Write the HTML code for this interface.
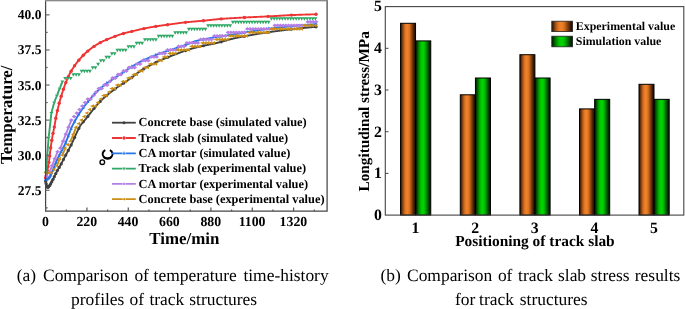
<!DOCTYPE html>
<html><head><meta charset="utf-8"><title>Figure</title>
<style>
html,body{margin:0;padding:0;background:#fff;}
body{width:685px;height:309px;overflow:hidden;font-family:"Liberation Serif",serif;}
svg{display:block;transform:translateZ(0);will-change:transform;}
text{font-family:"Liberation Serif",serif;fill:#000;text-rendering:geometricPrecision;}
.b{font-weight:bold;}
</style></head><body>
<svg width="685" height="309" viewBox="0 0 685 309">
<defs>
<linearGradient id="go" x1="0" y1="0" x2="1" y2="0"><stop offset="0" stop-color="#2a1405"/><stop offset="0.08" stop-color="#5a2a0a"/><stop offset="0.22" stop-color="#b55d1b"/><stop offset="0.35" stop-color="#ea7c27"/><stop offset="0.47" stop-color="#f08229"/><stop offset="0.60" stop-color="#d9711f"/><stop offset="0.75" stop-color="#8a4313"/><stop offset="0.90" stop-color="#3a1a06"/><stop offset="1" stop-color="#1a0b02"/></linearGradient>
<linearGradient id="gg" x1="0" y1="0" x2="1" y2="0"><stop offset="0" stop-color="#001a00"/><stop offset="0.10" stop-color="#004a00"/><stop offset="0.25" stop-color="#009a00"/><stop offset="0.38" stop-color="#00cc00"/><stop offset="0.50" stop-color="#00d600"/><stop offset="0.62" stop-color="#00b800"/><stop offset="0.78" stop-color="#006a00"/><stop offset="0.92" stop-color="#002a00"/><stop offset="1" stop-color="#001000"/></linearGradient>
<clipPath id="lc"><rect x="45.6" y="0.45" width="281.5" height="210.75"/></clipPath>
</defs>
<rect x="0" y="0" width="685" height="309" fill="#fff"/>
<g>
<path d="M45.6 181.2 L46.1 183.55 L46.6 185.46 L47.1 186.79 L47.6 187.38 L48.1 187.27 L48.6 186.82 L49.1 186.21 L49.6 185.58 L50.1 184.85 L50.6 183.99 L51.1 183.05 L51.6 182.06 L52.1 181.08 L52.6 180.13 L53.1 179.15 L53.6 178.15 L54.1 177.13 L54.6 176.09 L55.1 175.06 L55.6 174.03 L56.1 173.01 L56.6 172.01 L57.1 171.05 L57.6 170.12 L58.1 169.24 L58.6 168.39 L59.1 167.56 L59.6 166.73 L60.1 165.88 L60.6 165 L61.1 164.07 L61.6 163.12 L62.1 162.14 L62.6 161.16 L63.1 160.19 L63.6 159.24 L64.1 158.29 L64.6 157.34 L65.1 156.4 L65.6 155.46 L66.1 154.53 L66.6 153.59 L67.1 152.65 L67.6 151.72 L68.1 150.77 L68.6 149.83 L69.1 148.88 L69.6 147.92 L70.1 146.95 L70.6 145.98 L71.1 145 L71.6 143.99 L72.1 142.95 L72.6 141.89 L73.1 140.8 L73.6 139.69 L74.1 138.57 L74.6 137.44 L75.1 136.31 L75.6 135.19 L76.1 134.07 L76.6 132.97 L77.1 131.88 L77.6 130.83 L78.1 129.8 L78.6 128.81 L79.1 127.86 L79.6 126.95 L80.1 126.1 L80.6 125.3 L81.1 124.57 L81.6 123.89 L82.1 123.25 L82.6 122.65 L83.1 122.08 L83.6 121.51 L84.1 120.94 L84.6 120.36 L85.1 119.76 L85.6 119.14 L86.1 118.53 L86.6 117.9 L87.1 117.27 L87.6 116.64 L88.1 116.01 L88.6 115.37 L89.1 114.73 L89.6 114.09 L90.1 113.45 L90.6 112.8 L91.1 112.16 L91.6 111.52 L92.1 110.89 L92.6 110.25 L93.1 109.62 L93.6 108.99 L94.1 108.37 L94.6 107.75 L95.1 107.14 L95.6 106.54 L96.1 105.94 L96.6 105.35 L97.1 104.77 L97.6 104.2 L98.1 103.63 L98.6 103.08 L99.1 102.54 L99.6 102.01 L100.1 101.5 L100.6 101 L101.1 100.51 L101.6 100.02 L102.1 99.55 L102.6 99.08 L103.1 98.62 L103.6 98.17 L104.1 97.72 L104.6 97.27 L105.1 96.83 L105.6 96.4 L106.1 95.98 L106.6 95.55 L107.1 95.14 L107.6 94.72 L108.1 94.31 L108.6 93.91 L109.1 93.51 L109.6 93.11 L110.1 92.72 L110.6 92.33 L111.1 91.94 L111.6 91.56 L112.1 91.17 L112.6 90.79 L113.1 90.42 L113.6 90.04 L114.1 89.67 L114.6 89.3 L115.1 88.93 L115.6 88.56 L116.1 88.19 L116.6 87.82 L117.1 87.45 L117.6 87.09 L118.1 86.74 L118.6 86.39 L119.1 86.04 L119.6 85.7 L120.1 85.36 L120.6 85.03 L121.1 84.69 L121.6 84.36 L122.1 84.04 L122.6 83.71 L123.1 83.39 L123.6 83.06 L124.1 82.74 L124.6 82.41 L125.1 82.08 L125.6 81.76 L126.1 81.43 L126.6 81.09 L127.1 80.76 L127.6 80.42 L128.1 80.08 L128.6 79.73 L129.1 79.38 L129.6 79.02 L130.1 78.66 L130.6 78.29 L131.1 77.92 L131.6 77.54 L132.1 77.17 L132.6 76.79 L133.1 76.41 L133.6 76.03 L134.1 75.64 L134.6 75.26 L135.1 74.88 L135.6 74.5 L136.1 74.12 L136.6 73.74 L137.1 73.37 L137.6 72.99 L138.1 72.62 L138.6 72.26 L139.1 71.9 L139.6 71.55 L140.1 71.2 L140.6 70.86 L141.1 70.52 L141.6 70.19 L142.1 69.87 L142.6 69.56 L143.1 69.26 L143.6 68.96 L144.1 68.66 L144.6 68.36 L145.1 68.07 L145.6 67.79 L146.1 67.5 L146.6 67.22 L147.1 66.94 L147.6 66.66 L148.1 66.39 L148.6 66.12 L149.1 65.85 L149.6 65.59 L150.1 65.33 L150.6 65.07 L151.1 64.81 L151.6 64.55 L152.1 64.3 L152.6 64.05 L153.1 63.8 L153.6 63.55 L154.1 63.3 L154.6 63.06 L155.1 62.82 L155.6 62.58 L156.1 62.34 L156.6 62.1 L157.1 61.86 L157.6 61.63 L158.1 61.39 L158.6 61.16 L159.1 60.93 L159.6 60.71 L160.1 60.48 L160.6 60.27 L161.1 60.05 L161.6 59.84 L162.1 59.62 L162.6 59.41 L163.1 59.21 L163.6 59 L164.1 58.79 L164.6 58.59 L165.1 58.38 L165.6 58.18 L166.1 57.97 L166.6 57.77 L167.1 57.57 L167.6 57.37 L168.1 57.16 L168.6 56.96 L169.1 56.77 L169.6 56.57 L170.1 56.37 L170.6 56.17 L171.1 55.97 L171.6 55.78 L172.1 55.58 L172.6 55.39 L173.1 55.2 L173.6 55 L174.1 54.81 L174.6 54.62 L175.1 54.43 L175.6 54.24 L176.1 54.05 L176.6 53.86 L177.1 53.67 L177.6 53.49 L178.1 53.3 L178.6 53.12 L179.1 52.93 L179.6 52.75 L180.1 52.56 L180.6 52.38 L181.1 52.2 L181.6 52.01 L182.1 51.83 L182.6 51.65 L183.1 51.47 L183.6 51.29 L184.1 51.11 L184.6 50.93 L185.1 50.76 L185.6 50.59 L186.1 50.42 L186.6 50.25 L187.1 50.09 L187.6 49.93 L188.1 49.77 L188.6 49.61 L189.1 49.46 L189.6 49.31 L190.1 49.16 L190.6 49.01 L191.1 48.86 L191.6 48.72 L192.1 48.57 L192.6 48.43 L193.1 48.29 L193.6 48.15 L194.1 48.01 L194.6 47.88 L195.1 47.74 L195.6 47.61 L196.1 47.48 L196.6 47.34 L197.1 47.22 L197.6 47.09 L198.1 46.96 L198.6 46.84 L199.1 46.72 L199.6 46.6 L200.1 46.48 L200.6 46.36 L201.1 46.25 L201.6 46.13 L202.1 46.02 L202.6 45.92 L203.1 45.81 L203.6 45.71 L204.1 45.6 L204.6 45.5 L205.1 45.4 L205.6 45.3 L206.1 45.21 L206.6 45.11 L207.1 45.01 L207.6 44.92 L208.1 44.82 L208.6 44.72 L209.1 44.62 L209.6 44.53 L210.1 44.43 L210.6 44.33 L211.1 44.23 L211.6 44.13 L212.1 44.03 L212.6 43.92 L213.1 43.82 L213.6 43.71 L214.1 43.6 L214.6 43.49 L215.1 43.38 L215.6 43.26 L216.1 43.14 L216.6 43.02 L217.1 42.9 L217.6 42.77 L218.1 42.65 L218.6 42.52 L219.1 42.39 L219.6 42.26 L220.1 42.13 L220.6 41.99 L221.1 41.86 L221.6 41.72 L222.1 41.59 L222.6 41.45 L223.1 41.31 L223.6 41.17 L224.1 41.04 L224.6 40.9 L225.1 40.76 L225.6 40.62 L226.1 40.48 L226.6 40.34 L227.1 40.21 L227.6 40.07 L228.1 39.93 L228.6 39.8 L229.1 39.67 L229.6 39.53 L230.1 39.4 L230.6 39.27 L231.1 39.14 L231.6 39.01 L232.1 38.89 L232.6 38.76 L233.1 38.64 L233.6 38.52 L234.1 38.41 L234.6 38.29 L235.1 38.18 L235.6 38.07 L236.1 37.96 L236.6 37.85 L237.1 37.74 L237.6 37.63 L238.1 37.53 L238.6 37.43 L239.1 37.32 L239.6 37.22 L240.1 37.12 L240.6 37.02 L241.1 36.92 L241.6 36.82 L242.1 36.72 L242.6 36.63 L243.1 36.53 L243.6 36.43 L244.1 36.34 L244.6 36.24 L245.1 36.15 L245.6 36.06 L246.1 35.97 L246.6 35.87 L247.1 35.78 L247.6 35.69 L248.1 35.6 L248.6 35.51 L249.1 35.42 L249.6 35.33 L250.1 35.24 L250.6 35.15 L251.1 35.06 L251.6 34.97 L252.1 34.88 L252.6 34.79 L253.1 34.71 L253.6 34.62 L254.1 34.53 L254.6 34.44 L255.1 34.36 L255.6 34.27 L256.1 34.19 L256.6 34.1 L257.1 34.02 L257.6 33.93 L258.1 33.85 L258.6 33.76 L259.1 33.68 L259.6 33.6 L260.1 33.52 L260.6 33.43 L261.1 33.35 L261.6 33.27 L262.1 33.19 L262.6 33.11 L263.1 33.03 L263.6 32.95 L264.1 32.88 L264.6 32.8 L265.1 32.72 L265.6 32.65 L266.1 32.57 L266.6 32.49 L267.1 32.42 L267.6 32.35 L268.1 32.27 L268.6 32.2 L269.1 32.13 L269.6 32.06 L270.1 31.99 L270.6 31.92 L271.1 31.85 L271.6 31.78 L272.1 31.71 L272.6 31.64 L273.1 31.57 L273.6 31.5 L274.1 31.43 L274.6 31.36 L275.1 31.3 L275.6 31.23 L276.1 31.16 L276.6 31.09 L277.1 31.03 L277.6 30.96 L278.1 30.9 L278.6 30.83 L279.1 30.76 L279.6 30.7 L280.1 30.63 L280.6 30.57 L281.1 30.51 L281.6 30.44 L282.1 30.38 L282.6 30.31 L283.1 30.25 L283.6 30.19 L284.1 30.13 L284.6 30.06 L285.1 30 L285.6 29.94 L286.1 29.88 L286.6 29.82 L287.1 29.76 L287.6 29.7 L288.1 29.64 L288.6 29.58 L289.1 29.52 L289.6 29.46 L290.1 29.4 L290.6 29.34 L291.1 29.29 L291.6 29.23 L292.1 29.17 L292.6 29.11 L293.1 29.06 L293.6 29 L294.1 28.95 L294.6 28.89 L295.1 28.83 L295.6 28.78 L296.1 28.72 L296.6 28.67 L297.1 28.62 L297.6 28.56 L298.1 28.51 L298.6 28.45 L299.1 28.4 L299.6 28.35 L300.1 28.3 L300.6 28.24 L301.1 28.19 L301.6 28.14 L302.1 28.09 L302.6 28.04 L303.1 27.99 L303.6 27.94 L304.1 27.89 L304.6 27.84 L305.1 27.79 L305.6 27.75 L306.1 27.7 L306.6 27.65 L307.1 27.6 L307.6 27.56 L308.1 27.51 L308.6 27.47 L309.1 27.42 L309.6 27.38 L310.1 27.33 L310.6 27.29 L311.1 27.25 L311.6 27.2 L312.1 27.16 L312.6 27.12 L313.1 27.08 L313.6 27.04 L314.1 26.99 L314.6 26.95 L315.1 26.91 L315.6 26.87 L316.1 26.83 L316.5 26.8" fill="none" stroke="#404040" stroke-width="1.9" stroke-linejoin="round" stroke-linecap="round"/>
<circle cx="45.6" cy="181.2" r="1.6" fill="#404040"/>
<circle cx="46.1" cy="183.55" r="1.6" fill="#404040"/>
<circle cx="46.7" cy="185.78" r="1.6" fill="#404040"/>
<circle cx="47.3" cy="187.12" r="1.6" fill="#404040"/>
<circle cx="48" cy="187.32" r="1.6" fill="#404040"/>
<circle cx="48.8" cy="186.59" r="1.6" fill="#404040"/>
<circle cx="49.7" cy="185.44" r="1.6" fill="#404040"/>
<circle cx="50.7" cy="183.81" r="1.6" fill="#404040"/>
<circle cx="51.8" cy="181.67" r="1.6" fill="#404040"/>
<circle cx="53" cy="179.35" r="1.6" fill="#404040"/>
<circle cx="54.3" cy="176.71" r="1.6" fill="#404040"/>
<circle cx="55.8" cy="173.62" r="1.6" fill="#404040"/>
<circle cx="57.4" cy="170.48" r="1.6" fill="#404040"/>
<circle cx="59.2" cy="167.39" r="1.6" fill="#404040"/>
<circle cx="61.2" cy="163.88" r="1.6" fill="#404040"/>
<circle cx="63.4" cy="159.62" r="1.6" fill="#404040"/>
<circle cx="65.8" cy="155.09" r="1.6" fill="#404040"/>
<circle cx="68.3" cy="150.4" r="1.6" fill="#404040"/>
<circle cx="71.1" cy="145" r="1.6" fill="#404040"/>
<circle cx="74.6" cy="137.44" r="1.6" fill="#404040"/>
<circle cx="78.8" cy="128.42" r="1.6" fill="#404040"/>
<circle cx="83.3" cy="121.85" r="1.6" fill="#404040"/>
<circle cx="87.8" cy="116.39" r="1.6" fill="#404040"/>
<circle cx="94" cy="108.49" r="1.6" fill="#404040"/>
<circle cx="100.2" cy="101.4" r="1.6" fill="#404040"/>
<circle cx="106.6" cy="95.55" r="1.6" fill="#404040"/>
<circle cx="115" cy="89" r="1.6" fill="#404040"/>
<circle cx="123.5" cy="83.13" r="1.6" fill="#404040"/>
<circle cx="131.8" cy="77.39" r="1.6" fill="#404040"/>
<circle cx="143.9" cy="68.78" r="1.6" fill="#404040"/>
<circle cx="155.8" cy="62.48" r="1.6" fill="#404040"/>
<circle cx="167.6" cy="57.37" r="1.6" fill="#404040"/>
<circle cx="185.5" cy="50.62" r="1.6" fill="#404040"/>
<circle cx="203.4" cy="45.75" r="1.6" fill="#404040"/>
<circle cx="221.2" cy="41.83" r="1.6" fill="#404040"/>
<circle cx="244.4" cy="36.28" r="1.6" fill="#404040"/>
<circle cx="268.2" cy="32.26" r="1.6" fill="#404040"/>
<circle cx="291.4" cy="29.25" r="1.6" fill="#404040"/>
<circle cx="316" cy="26.84" r="1.6" fill="#404040"/>
<path d="M45.6 178 L46.1 176.03 L46.6 173.86 L47.1 171.51 L47.6 168.89 L48.1 166.11 L48.6 163.41 L49.1 160.64 L49.6 156.9 L50.1 152.45 L50.6 148.52 L51.1 144.93 L51.6 141.54 L52.1 138.37 L52.6 135.44 L53.1 132.84 L53.6 130.47 L54.1 128.1 L54.6 125.55 L55.1 122.52 L55.6 119.31 L56.1 116.69 L56.6 114.26 L57.1 111.95 L57.6 109.74 L58.1 107.63 L58.6 105.61 L59.1 103.67 L59.6 101.8 L60.1 100 L60.6 98.25 L61.1 96.56 L61.6 94.9 L62.1 93.28 L62.6 91.71 L63.1 90.18 L63.6 88.69 L64.1 87.24 L64.6 85.83 L65.1 84.46 L65.6 83.14 L66.1 81.85 L66.6 80.6 L67.1 79.39 L67.6 78.21 L68.1 77.08 L68.6 75.98 L69.1 74.94 L69.6 73.93 L70.1 72.98 L70.6 72.07 L71.1 71.2 L71.6 70.36 L72.1 69.55 L72.6 68.75 L73.1 67.97 L73.6 67.2 L74.1 66.46 L74.6 65.73 L75.1 65.02 L75.6 64.32 L76.1 63.64 L76.6 62.98 L77.1 62.32 L77.6 61.69 L78.1 61.07 L78.6 60.46 L79.1 59.86 L79.6 59.28 L80.1 58.7 L80.6 58.13 L81.1 57.58 L81.6 57.03 L82.1 56.49 L82.6 55.96 L83.1 55.44 L83.6 54.94 L84.1 54.44 L84.6 53.95 L85.1 53.47 L85.6 53.01 L86.1 52.55 L86.6 52.11 L87.1 51.67 L87.6 51.25 L88.1 50.84 L88.6 50.43 L89.1 50.03 L89.6 49.63 L90.1 49.25 L90.6 48.86 L91.1 48.48 L91.6 48.11 L92.1 47.74 L92.6 47.38 L93.1 47.03 L93.6 46.68 L94.1 46.34 L94.6 46 L95.1 45.67 L95.6 45.34 L96.1 45.02 L96.6 44.71 L97.1 44.4 L97.6 44.1 L98.1 43.81 L98.6 43.52 L99.1 43.24 L99.6 42.97 L100.1 42.7 L100.6 42.44 L101.1 42.18 L101.6 41.93 L102.1 41.69 L102.6 41.44 L103.1 41.21 L103.6 40.97 L104.1 40.75 L104.6 40.52 L105.1 40.3 L105.6 40.08 L106.1 39.87 L106.6 39.66 L107.1 39.45 L107.6 39.24 L108.1 39.04 L108.6 38.83 L109.1 38.63 L109.6 38.44 L110.1 38.24 L110.6 38.04 L111.1 37.85 L111.6 37.65 L112.1 37.46 L112.6 37.27 L113.1 37.07 L113.6 36.88 L114.1 36.69 L114.6 36.49 L115.1 36.3 L115.6 36.1 L116.1 35.91 L116.6 35.72 L117.1 35.52 L117.6 35.34 L118.1 35.15 L118.6 34.97 L119.1 34.8 L119.6 34.63 L120.1 34.47 L120.6 34.31 L121.1 34.16 L121.6 34.01 L122.1 33.87 L122.6 33.73 L123.1 33.59 L123.6 33.45 L124.1 33.31 L124.6 33.18 L125.1 33.05 L125.6 32.92 L126.1 32.79 L126.6 32.66 L127.1 32.54 L127.6 32.41 L128.1 32.29 L128.6 32.17 L129.1 32.04 L129.6 31.92 L130.1 31.8 L130.6 31.67 L131.1 31.55 L131.6 31.43 L132.1 31.3 L132.6 31.18 L133.1 31.06 L133.6 30.93 L134.1 30.81 L134.6 30.69 L135.1 30.57 L135.6 30.45 L136.1 30.33 L136.6 30.21 L137.1 30.09 L137.6 29.97 L138.1 29.85 L138.6 29.74 L139.1 29.62 L139.6 29.51 L140.1 29.4 L140.6 29.29 L141.1 29.17 L141.6 29.07 L142.1 28.96 L142.6 28.85 L143.1 28.75 L143.6 28.64 L144.1 28.54 L144.6 28.44 L145.1 28.34 L145.6 28.24 L146.1 28.14 L146.6 28.04 L147.1 27.94 L147.6 27.84 L148.1 27.75 L148.6 27.65 L149.1 27.56 L149.6 27.46 L150.1 27.37 L150.6 27.28 L151.1 27.19 L151.6 27.1 L152.1 27.01 L152.6 26.92 L153.1 26.83 L153.6 26.75 L154.1 26.66 L154.6 26.58 L155.1 26.49 L155.6 26.41 L156.1 26.33 L156.6 26.25 L157.1 26.17 L157.6 26.1 L158.1 26.02 L158.6 25.95 L159.1 25.87 L159.6 25.8 L160.1 25.73 L160.6 25.66 L161.1 25.59 L161.6 25.52 L162.1 25.45 L162.6 25.38 L163.1 25.31 L163.6 25.24 L164.1 25.17 L164.6 25.11 L165.1 25.04 L165.6 24.97 L166.1 24.9 L166.6 24.84 L167.1 24.77 L167.6 24.7 L168.1 24.63 L168.6 24.56 L169.1 24.49 L169.6 24.42 L170.1 24.35 L170.6 24.28 L171.1 24.21 L171.6 24.14 L172.1 24.07 L172.6 24 L173.1 23.93 L173.6 23.86 L174.1 23.79 L174.6 23.72 L175.1 23.65 L175.6 23.58 L176.1 23.52 L176.6 23.45 L177.1 23.38 L177.6 23.31 L178.1 23.24 L178.6 23.18 L179.1 23.11 L179.6 23.04 L180.1 22.98 L180.6 22.92 L181.1 22.85 L181.6 22.79 L182.1 22.73 L182.6 22.67 L183.1 22.61 L183.6 22.55 L184.1 22.49 L184.6 22.43 L185.1 22.38 L185.6 22.32 L186.1 22.27 L186.6 22.22 L187.1 22.16 L187.6 22.11 L188.1 22.06 L188.6 22.01 L189.1 21.97 L189.6 21.92 L190.1 21.87 L190.6 21.83 L191.1 21.78 L191.6 21.74 L192.1 21.69 L192.6 21.65 L193.1 21.6 L193.6 21.56 L194.1 21.52 L194.6 21.47 L195.1 21.43 L195.6 21.39 L196.1 21.35 L196.6 21.3 L197.1 21.26 L197.6 21.22 L198.1 21.18 L198.6 21.13 L199.1 21.09 L199.6 21.05 L200.1 21 L200.6 20.96 L201.1 20.91 L201.6 20.87 L202.1 20.82 L202.6 20.78 L203.1 20.73 L203.6 20.68 L204.1 20.63 L204.6 20.58 L205.1 20.53 L205.6 20.48 L206.1 20.43 L206.6 20.38 L207.1 20.32 L207.6 20.27 L208.1 20.22 L208.6 20.16 L209.1 20.11 L209.6 20.05 L210.1 20 L210.6 19.94 L211.1 19.89 L211.6 19.83 L212.1 19.78 L212.6 19.72 L213.1 19.67 L213.6 19.62 L214.1 19.56 L214.6 19.51 L215.1 19.46 L215.6 19.41 L216.1 19.36 L216.6 19.31 L217.1 19.26 L217.6 19.21 L218.1 19.16 L218.6 19.12 L219.1 19.07 L219.6 19.03 L220.1 18.99 L220.6 18.95 L221.1 18.91 L221.6 18.87 L222.1 18.83 L222.6 18.79 L223.1 18.76 L223.6 18.72 L224.1 18.69 L224.6 18.65 L225.1 18.62 L225.6 18.58 L226.1 18.55 L226.6 18.52 L227.1 18.48 L227.6 18.45 L228.1 18.42 L228.6 18.39 L229.1 18.35 L229.6 18.32 L230.1 18.29 L230.6 18.26 L231.1 18.23 L231.6 18.2 L232.1 18.17 L232.6 18.14 L233.1 18.11 L233.6 18.08 L234.1 18.05 L234.6 18.03 L235.1 18 L235.6 17.97 L236.1 17.94 L236.6 17.91 L237.1 17.89 L237.6 17.86 L238.1 17.83 L238.6 17.81 L239.1 17.78 L239.6 17.75 L240.1 17.73 L240.6 17.7 L241.1 17.67 L241.6 17.65 L242.1 17.62 L242.6 17.59 L243.1 17.57 L243.6 17.54 L244.1 17.52 L244.6 17.49 L245.1 17.46 L245.6 17.44 L246.1 17.41 L246.6 17.39 L247.1 17.36 L247.6 17.34 L248.1 17.32 L248.6 17.29 L249.1 17.27 L249.6 17.25 L250.1 17.22 L250.6 17.2 L251.1 17.18 L251.6 17.16 L252.1 17.13 L252.6 17.11 L253.1 17.09 L253.6 17.07 L254.1 17.04 L254.6 17.02 L255.1 17 L255.6 16.98 L256.1 16.96 L256.6 16.94 L257.1 16.92 L257.6 16.89 L258.1 16.87 L258.6 16.85 L259.1 16.83 L259.6 16.81 L260.1 16.79 L260.6 16.76 L261.1 16.74 L261.6 16.72 L262.1 16.7 L262.6 16.68 L263.1 16.65 L263.6 16.63 L264.1 16.61 L264.6 16.58 L265.1 16.56 L265.6 16.54 L266.1 16.51 L266.6 16.49 L267.1 16.46 L267.6 16.44 L268.1 16.42 L268.6 16.39 L269.1 16.36 L269.6 16.34 L270.1 16.31 L270.6 16.28 L271.1 16.26 L271.6 16.23 L272.1 16.2 L272.6 16.17 L273.1 16.14 L273.6 16.11 L274.1 16.08 L274.6 16.05 L275.1 16.02 L275.6 15.99 L276.1 15.96 L276.6 15.93 L277.1 15.9 L277.6 15.87 L278.1 15.84 L278.6 15.8 L279.1 15.77 L279.6 15.74 L280.1 15.71 L280.6 15.68 L281.1 15.65 L281.6 15.62 L282.1 15.59 L282.6 15.56 L283.1 15.53 L283.6 15.5 L284.1 15.47 L284.6 15.44 L285.1 15.41 L285.6 15.39 L286.1 15.36 L286.6 15.33 L287.1 15.3 L287.6 15.28 L288.1 15.25 L288.6 15.23 L289.1 15.2 L289.6 15.18 L290.1 15.16 L290.6 15.13 L291.1 15.11 L291.6 15.09 L292.1 15.07 L292.6 15.05 L293.1 15.03 L293.6 15.01 L294.1 14.99 L294.6 14.97 L295.1 14.95 L295.6 14.93 L296.1 14.91 L296.6 14.89 L297.1 14.87 L297.6 14.85 L298.1 14.83 L298.6 14.82 L299.1 14.8 L299.6 14.78 L300.1 14.76 L300.6 14.74 L301.1 14.72 L301.6 14.71 L302.1 14.69 L302.6 14.67 L303.1 14.65 L303.6 14.64 L304.1 14.62 L304.6 14.6 L305.1 14.59 L305.6 14.57 L306.1 14.56 L306.6 14.54 L307.1 14.53 L307.6 14.51 L308.1 14.5 L308.6 14.48 L309.1 14.47 L309.6 14.45 L310.1 14.44 L310.6 14.43 L311.1 14.41 L311.6 14.4 L312.1 14.39 L312.6 14.38 L313.1 14.36 L313.6 14.35 L314.1 14.34 L314.6 14.33 L315.1 14.32 L315.6 14.31 L316 14.3" fill="none" stroke="#ee3535" stroke-width="1.9" stroke-linejoin="round" stroke-linecap="round"/>
<circle cx="45.6" cy="178" r="1.7" fill="#ee3535"/>
<circle cx="46.1" cy="176.03" r="1.7" fill="#ee3535"/>
<circle cx="46.7" cy="173.41" r="1.7" fill="#ee3535"/>
<circle cx="47.3" cy="170.5" r="1.7" fill="#ee3535"/>
<circle cx="48" cy="166.66" r="1.7" fill="#ee3535"/>
<circle cx="48.8" cy="162.36" r="1.7" fill="#ee3535"/>
<circle cx="49.7" cy="156.02" r="1.7" fill="#ee3535"/>
<circle cx="50.7" cy="147.79" r="1.7" fill="#ee3535"/>
<circle cx="51.8" cy="140.25" r="1.7" fill="#ee3535"/>
<circle cx="53" cy="133.34" r="1.7" fill="#ee3535"/>
<circle cx="54.3" cy="127.12" r="1.7" fill="#ee3535"/>
<circle cx="55.8" cy="118.2" r="1.7" fill="#ee3535"/>
<circle cx="57.4" cy="110.61" r="1.7" fill="#ee3535"/>
<circle cx="59.2" cy="103.29" r="1.7" fill="#ee3535"/>
<circle cx="61.2" cy="96.22" r="1.7" fill="#ee3535"/>
<circle cx="63.4" cy="89.28" r="1.7" fill="#ee3535"/>
<circle cx="65.8" cy="82.62" r="1.7" fill="#ee3535"/>
<circle cx="68.3" cy="76.63" r="1.7" fill="#ee3535"/>
<circle cx="71.1" cy="71.2" r="1.7" fill="#ee3535"/>
<circle cx="74.6" cy="65.73" r="1.7" fill="#ee3535"/>
<circle cx="78.8" cy="60.22" r="1.7" fill="#ee3535"/>
<circle cx="83.3" cy="55.24" r="1.7" fill="#ee3535"/>
<circle cx="87.8" cy="51.08" r="1.7" fill="#ee3535"/>
<circle cx="94" cy="46.4" r="1.7" fill="#ee3535"/>
<circle cx="100.2" cy="42.65" r="1.7" fill="#ee3535"/>
<circle cx="106.6" cy="39.66" r="1.7" fill="#ee3535"/>
<circle cx="115" cy="36.34" r="1.7" fill="#ee3535"/>
<circle cx="123.5" cy="33.48" r="1.7" fill="#ee3535"/>
<circle cx="131.8" cy="31.38" r="1.7" fill="#ee3535"/>
<circle cx="143.9" cy="28.58" r="1.7" fill="#ee3535"/>
<circle cx="155.8" cy="26.38" r="1.7" fill="#ee3535"/>
<circle cx="167.6" cy="24.7" r="1.7" fill="#ee3535"/>
<circle cx="185.5" cy="22.33" r="1.7" fill="#ee3535"/>
<circle cx="203.4" cy="20.7" r="1.7" fill="#ee3535"/>
<circle cx="221.2" cy="18.9" r="1.7" fill="#ee3535"/>
<circle cx="244.4" cy="17.5" r="1.7" fill="#ee3535"/>
<circle cx="268.2" cy="16.41" r="1.7" fill="#ee3535"/>
<circle cx="291.4" cy="15.1" r="1.7" fill="#ee3535"/>
<circle cx="316" cy="14.3" r="1.7" fill="#ee3535"/>
<path d="M45.6 179.8 L46.1 179.64 L46.6 179.42 L47.1 179.16 L47.6 178.86 L48.1 178.53 L48.6 178.15 L49.1 177.69 L49.6 177.14 L50.1 176.46 L50.6 175.5 L51.1 174.43 L51.6 173.35 L52.1 172.21 L52.6 171.02 L53.1 169.81 L53.6 168.55 L54.1 167.25 L54.6 165.96 L55.1 164.69 L55.6 163.42 L56.1 162.15 L56.6 160.92 L57.1 159.78 L57.6 158.7 L58.1 157.66 L58.6 156.66 L59.1 155.69 L59.6 154.74 L60.1 153.82 L60.6 152.9 L61.1 151.99 L61.6 151.08 L62.1 150.16 L62.6 149.23 L63.1 148.27 L63.6 147.29 L64.1 146.27 L64.6 145.22 L65.1 144.11 L65.6 142.94 L66.1 141.73 L66.6 140.47 L67.1 139.18 L67.6 137.86 L68.1 136.53 L68.6 135.2 L69.1 133.87 L69.6 132.55 L70.1 131.25 L70.6 129.99 L71.1 128.76 L71.6 127.58 L72.1 126.46 L72.6 125.4 L73.1 124.41 L73.6 123.44 L74.1 122.49 L74.6 121.55 L75.1 120.64 L75.6 119.73 L76.1 118.85 L76.6 117.98 L77.1 117.12 L77.6 116.28 L78.1 115.46 L78.6 114.65 L79.1 113.85 L79.6 113.07 L80.1 112.3 L80.6 111.54 L81.1 110.79 L81.6 110.06 L82.1 109.34 L82.6 108.63 L83.1 107.93 L83.6 107.24 L84.1 106.56 L84.6 105.9 L85.1 105.24 L85.6 104.59 L86.1 103.94 L86.6 103.3 L87.1 102.67 L87.6 102.05 L88.1 101.43 L88.6 100.82 L89.1 100.22 L89.6 99.62 L90.1 99.03 L90.6 98.45 L91.1 97.87 L91.6 97.3 L92.1 96.74 L92.6 96.19 L93.1 95.64 L93.6 95.1 L94.1 94.56 L94.6 94.03 L95.1 93.51 L95.6 93 L96.1 92.49 L96.6 92 L97.1 91.5 L97.6 91.02 L98.1 90.54 L98.6 90.07 L99.1 89.61 L99.6 89.15 L100.1 88.7 L100.6 88.26 L101.1 87.83 L101.6 87.4 L102.1 86.98 L102.6 86.57 L103.1 86.17 L103.6 85.77 L104.1 85.38 L104.6 85 L105.1 84.62 L105.6 84.24 L106.1 83.88 L106.6 83.51 L107.1 83.15 L107.6 82.8 L108.1 82.45 L108.6 82.1 L109.1 81.76 L109.6 81.41 L110.1 81.07 L110.6 80.74 L111.1 80.4 L111.6 80.07 L112.1 79.73 L112.6 79.4 L113.1 79.06 L113.6 78.73 L114.1 78.4 L114.6 78.06 L115.1 77.73 L115.6 77.39 L116.1 77.05 L116.6 76.71 L117.1 76.36 L117.6 76.02 L118.1 75.67 L118.6 75.33 L119.1 74.98 L119.6 74.64 L120.1 74.3 L120.6 73.95 L121.1 73.61 L121.6 73.27 L122.1 72.93 L122.6 72.59 L123.1 72.26 L123.6 71.92 L124.1 71.59 L124.6 71.25 L125.1 70.92 L125.6 70.6 L126.1 70.27 L126.6 69.94 L127.1 69.62 L127.6 69.3 L128.1 68.98 L128.6 68.67 L129.1 68.36 L129.6 68.05 L130.1 67.74 L130.6 67.43 L131.1 67.13 L131.6 66.82 L132.1 66.52 L132.6 66.21 L133.1 65.91 L133.6 65.61 L134.1 65.31 L134.6 65.01 L135.1 64.72 L135.6 64.42 L136.1 64.13 L136.6 63.84 L137.1 63.55 L137.6 63.27 L138.1 62.99 L138.6 62.71 L139.1 62.44 L139.6 62.17 L140.1 61.91 L140.6 61.64 L141.1 61.39 L141.6 61.14 L142.1 60.89 L142.6 60.65 L143.1 60.41 L143.6 60.18 L144.1 59.94 L144.6 59.71 L145.1 59.49 L145.6 59.26 L146.1 59.04 L146.6 58.81 L147.1 58.6 L147.6 58.38 L148.1 58.16 L148.6 57.95 L149.1 57.74 L149.6 57.53 L150.1 57.32 L150.6 57.11 L151.1 56.91 L151.6 56.7 L152.1 56.5 L152.6 56.3 L153.1 56.1 L153.6 55.91 L154.1 55.71 L154.6 55.52 L155.1 55.32 L155.6 55.13 L156.1 54.94 L156.6 54.75 L157.1 54.56 L157.6 54.38 L158.1 54.19 L158.6 54.01 L159.1 53.82 L159.6 53.64 L160.1 53.46 L160.6 53.28 L161.1 53.09 L161.6 52.91 L162.1 52.74 L162.6 52.56 L163.1 52.38 L163.6 52.2 L164.1 52.02 L164.6 51.85 L165.1 51.67 L165.6 51.49 L166.1 51.32 L166.6 51.15 L167.1 50.98 L167.6 50.82 L168.1 50.66 L168.6 50.49 L169.1 50.33 L169.6 50.18 L170.1 50.02 L170.6 49.86 L171.1 49.71 L171.6 49.55 L172.1 49.4 L172.6 49.25 L173.1 49.09 L173.6 48.94 L174.1 48.79 L174.6 48.63 L175.1 48.48 L175.6 48.32 L176.1 48.17 L176.6 48.01 L177.1 47.85 L177.6 47.69 L178.1 47.53 L178.6 47.37 L179.1 47.2 L179.6 47.04 L180.1 46.87 L180.6 46.69 L181.1 46.52 L181.6 46.34 L182.1 46.17 L182.6 45.99 L183.1 45.81 L183.6 45.63 L184.1 45.45 L184.6 45.26 L185.1 45.08 L185.6 44.89 L186.1 44.71 L186.6 44.52 L187.1 44.34 L187.6 44.15 L188.1 43.96 L188.6 43.77 L189.1 43.57 L189.6 43.36 L190.1 43.15 L190.6 42.94 L191.1 42.73 L191.6 42.52 L192.1 42.32 L192.6 42.12 L193.1 41.93 L193.6 41.75 L194.1 41.57 L194.6 41.42 L195.1 41.27 L195.6 41.14 L196.1 41 L196.6 40.87 L197.1 40.74 L197.6 40.62 L198.1 40.5 L198.6 40.38 L199.1 40.26 L199.6 40.15 L200.1 40.04 L200.6 39.93 L201.1 39.82 L201.6 39.71 L202.1 39.61 L202.6 39.51 L203.1 39.41 L203.6 39.31 L204.1 39.21 L204.6 39.12 L205.1 39.02 L205.6 38.93 L206.1 38.84 L206.6 38.75 L207.1 38.66 L207.6 38.57 L208.1 38.48 L208.6 38.4 L209.1 38.31 L209.6 38.22 L210.1 38.14 L210.6 38.05 L211.1 37.97 L211.6 37.88 L212.1 37.8 L212.6 37.71 L213.1 37.63 L213.6 37.54 L214.1 37.46 L214.6 37.37 L215.1 37.28 L215.6 37.2 L216.1 37.11 L216.6 37.03 L217.1 36.94 L217.6 36.86 L218.1 36.78 L218.6 36.7 L219.1 36.62 L219.6 36.54 L220.1 36.46 L220.6 36.39 L221.1 36.31 L221.6 36.23 L222.1 36.16 L222.6 36.08 L223.1 36.01 L223.6 35.93 L224.1 35.86 L224.6 35.78 L225.1 35.71 L225.6 35.63 L226.1 35.56 L226.6 35.49 L227.1 35.41 L227.6 35.34 L228.1 35.27 L228.6 35.19 L229.1 35.12 L229.6 35.04 L230.1 34.97 L230.6 34.89 L231.1 34.82 L231.6 34.74 L232.1 34.66 L232.6 34.58 L233.1 34.51 L233.6 34.43 L234.1 34.35 L234.6 34.27 L235.1 34.18 L235.6 34.1 L236.1 34.02 L236.6 33.93 L237.1 33.85 L237.6 33.76 L238.1 33.67 L238.6 33.59 L239.1 33.5 L239.6 33.41 L240.1 33.32 L240.6 33.23 L241.1 33.14 L241.6 33.06 L242.1 32.97 L242.6 32.88 L243.1 32.79 L243.6 32.7 L244.1 32.61 L244.6 32.52 L245.1 32.43 L245.6 32.34 L246.1 32.26 L246.6 32.17 L247.1 32.08 L247.6 32 L248.1 31.91 L248.6 31.83 L249.1 31.75 L249.6 31.66 L250.1 31.58 L250.6 31.5 L251.1 31.42 L251.6 31.34 L252.1 31.26 L252.6 31.18 L253.1 31.1 L253.6 31.02 L254.1 30.94 L254.6 30.86 L255.1 30.78 L255.6 30.7 L256.1 30.62 L256.6 30.54 L257.1 30.46 L257.6 30.38 L258.1 30.31 L258.6 30.23 L259.1 30.15 L259.6 30.07 L260.1 30 L260.6 29.92 L261.1 29.84 L261.6 29.77 L262.1 29.69 L262.6 29.62 L263.1 29.55 L263.6 29.47 L264.1 29.4 L264.6 29.33 L265.1 29.26 L265.6 29.19 L266.1 29.12 L266.6 29.05 L267.1 28.98 L267.6 28.91 L268.1 28.85 L268.6 28.78 L269.1 28.71 L269.6 28.65 L270.1 28.59 L270.6 28.52 L271.1 28.46 L271.6 28.4 L272.1 28.34 L272.6 28.28 L273.1 28.22 L273.6 28.16 L274.1 28.09 L274.6 28.03 L275.1 27.98 L275.6 27.92 L276.1 27.86 L276.6 27.8 L277.1 27.74 L277.6 27.68 L278.1 27.62 L278.6 27.57 L279.1 27.51 L279.6 27.45 L280.1 27.4 L280.6 27.34 L281.1 27.29 L281.6 27.23 L282.1 27.18 L282.6 27.12 L283.1 27.07 L283.6 27.01 L284.1 26.96 L284.6 26.9 L285.1 26.85 L285.6 26.8 L286.1 26.75 L286.6 26.69 L287.1 26.64 L287.6 26.59 L288.1 26.54 L288.6 26.49 L289.1 26.44 L289.6 26.39 L290.1 26.34 L290.6 26.29 L291.1 26.24 L291.6 26.19 L292.1 26.14 L292.6 26.09 L293.1 26.04 L293.6 25.99 L294.1 25.95 L294.6 25.9 L295.1 25.85 L295.6 25.8 L296.1 25.76 L296.6 25.71 L297.1 25.66 L297.6 25.62 L298.1 25.57 L298.6 25.53 L299.1 25.48 L299.6 25.44 L300.1 25.39 L300.6 25.35 L301.1 25.3 L301.6 25.26 L302.1 25.22 L302.6 25.17 L303.1 25.13 L303.6 25.09 L304.1 25.04 L304.6 25 L305.1 24.96 L305.6 24.92 L306.1 24.88 L306.6 24.84 L307.1 24.8 L307.6 24.76 L308.1 24.72 L308.6 24.68 L309.1 24.64 L309.6 24.6 L310.1 24.56 L310.6 24.53 L311.1 24.49 L311.6 24.45 L312.1 24.41 L312.6 24.38 L313.1 24.34 L313.6 24.3 L314.1 24.27 L314.6 24.23 L315.1 24.2 L315.6 24.16 L316.1 24.13 L316.5 24.1" fill="none" stroke="#2676e8" stroke-width="1.9" stroke-linejoin="round" stroke-linecap="round"/>
<polygon points="45.6,177.4 44.1,181 47.1,181" fill="#2676e8"/>
<polygon points="46.1,177.24 44.6,180.84 47.6,180.84" fill="#2676e8"/>
<polygon points="46.7,176.97 45.2,180.57 48.2,180.57" fill="#2676e8"/>
<polygon points="47.3,176.64 45.8,180.24 48.8,180.24" fill="#2676e8"/>
<polygon points="48,176.2 46.5,179.8 49.5,179.8" fill="#2676e8"/>
<polygon points="48.8,175.57 47.3,179.17 50.3,179.17" fill="#2676e8"/>
<polygon points="49.7,174.62 48.2,178.22 51.2,178.22" fill="#2676e8"/>
<polygon points="50.7,172.89 49.2,176.49 52.2,176.49" fill="#2676e8"/>
<polygon points="51.8,170.5 50.3,174.1 53.3,174.1" fill="#2676e8"/>
<polygon points="53,167.66 51.5,171.26 54.5,171.26" fill="#2676e8"/>
<polygon points="54.3,164.34 52.8,167.94 55.8,167.94" fill="#2676e8"/>
<polygon points="55.8,160.51 54.3,164.11 57.3,164.11" fill="#2676e8"/>
<polygon points="57.4,156.72 55.9,160.32 58.9,160.32" fill="#2676e8"/>
<polygon points="59.2,153.1 57.7,156.7 60.7,156.7" fill="#2676e8"/>
<polygon points="61.2,149.41 59.7,153.01 62.7,153.01" fill="#2676e8"/>
<polygon points="63.4,145.29 61.9,148.89 64.9,148.89" fill="#2676e8"/>
<polygon points="65.8,140.06 64.3,143.66 67.3,143.66" fill="#2676e8"/>
<polygon points="68.3,133.6 66.8,137.2 69.8,137.2" fill="#2676e8"/>
<polygon points="71.1,126.36 69.6,129.96 72.6,129.96" fill="#2676e8"/>
<polygon points="74.6,119.15 73.1,122.75 76.1,122.75" fill="#2676e8"/>
<polygon points="78.8,111.93 77.3,115.53 80.3,115.53" fill="#2676e8"/>
<polygon points="83.3,105.25 81.8,108.85 84.8,108.85" fill="#2676e8"/>
<polygon points="87.8,99.4 86.3,103 89.3,103" fill="#2676e8"/>
<polygon points="94,92.27 92.5,95.87 95.5,95.87" fill="#2676e8"/>
<polygon points="100.2,86.21 98.7,89.81 101.7,89.81" fill="#2676e8"/>
<polygon points="106.6,81.11 105.1,84.71 108.1,84.71" fill="#2676e8"/>
<polygon points="115,75.39 113.5,78.99 116.5,78.99" fill="#2676e8"/>
<polygon points="123.5,69.59 122,73.19 125,73.19" fill="#2676e8"/>
<polygon points="131.8,64.3 130.3,67.9 133.3,67.9" fill="#2676e8"/>
<polygon points="143.9,57.64 142.4,61.24 145.4,61.24" fill="#2676e8"/>
<polygon points="155.8,52.66 154.3,56.26 157.3,56.26" fill="#2676e8"/>
<polygon points="167.6,48.42 166.1,52.02 169.1,52.02" fill="#2676e8"/>
<polygon points="185.5,42.53 184,46.13 187,46.13" fill="#2676e8"/>
<polygon points="203.4,36.95 201.9,40.55 204.9,40.55" fill="#2676e8"/>
<polygon points="221.2,33.89 219.7,37.49 222.7,37.49" fill="#2676e8"/>
<polygon points="244.4,30.16 242.9,33.76 245.9,33.76" fill="#2676e8"/>
<polygon points="268.2,26.43 266.7,30.03 269.7,30.03" fill="#2676e8"/>
<polygon points="291.4,23.81 289.9,27.41 292.9,27.41" fill="#2676e8"/>
<polygon points="316,21.73 314.5,25.33 317.5,25.33" fill="#2676e8"/>
<path d="M45.98 171.76 L48.57 138.66 M48.76 136.67 L51.29 114.1 M51.65 112.13 L53.9 103.54 M54.51 101.64 L56.54 96.49 M57.26 94.63 L59.29 89.47 M60.01 87.61 L62.04 82.45" fill="none" stroke="#2fa866" stroke-width="1.9"/>
<polygon points="45.9,175.02 43.95,171.62 47.85,171.62" fill="#2fa866"/>
<polygon points="48.65,139.93 46.7,136.53 50.6,136.53" fill="#2fa866"/>
<polygon points="51.4,115.37 49.45,111.97 53.35,111.97" fill="#2fa866"/>
<polygon points="54.15,104.84 52.2,101.44 56.1,101.44" fill="#2fa866"/>
<polygon points="56.9,97.82 54.95,94.42 58.85,94.42" fill="#2fa866"/>
<polygon points="59.65,90.81 57.7,87.41 61.6,87.41" fill="#2fa866"/>
<polygon points="62.4,83.79 60.45,80.39 64.35,80.39" fill="#2fa866"/>
<polygon points="65.15,80.28 63.2,76.88 67.1,76.88" fill="#2fa866"/>
<polygon points="67.9,80.28 65.95,76.88 69.85,76.88" fill="#2fa866"/>
<polygon points="70.65,80.28 68.7,76.88 72.6,76.88" fill="#2fa866"/>
<polygon points="73.4,76.77 71.45,73.37 75.35,73.37" fill="#2fa866"/>
<polygon points="76.15,76.77 74.2,73.37 78.1,73.37" fill="#2fa866"/>
<polygon points="78.9,76.77 76.95,73.37 80.85,73.37" fill="#2fa866"/>
<polygon points="81.65,73.26 79.7,69.86 83.6,69.86" fill="#2fa866"/>
<polygon points="84.4,73.26 82.45,69.86 86.35,69.86" fill="#2fa866"/>
<polygon points="87.15,73.26 85.2,69.86 89.1,69.86" fill="#2fa866"/>
<polygon points="89.9,73.26 87.95,69.86 91.85,69.86" fill="#2fa866"/>
<polygon points="92.65,69.75 90.7,66.35 94.6,66.35" fill="#2fa866"/>
<polygon points="95.4,69.75 93.45,66.35 97.35,66.35" fill="#2fa866"/>
<polygon points="98.15,66.24 96.2,62.84 100.1,62.84" fill="#2fa866"/>
<polygon points="100.9,62.73 98.95,59.33 102.85,59.33" fill="#2fa866"/>
<polygon points="103.65,62.73 101.7,59.33 105.6,59.33" fill="#2fa866"/>
<polygon points="106.4,59.22 104.45,55.82 108.35,55.82" fill="#2fa866"/>
<polygon points="109.15,59.22 107.2,55.82 111.1,55.82" fill="#2fa866"/>
<polygon points="111.9,55.72 109.95,52.32 113.85,52.32" fill="#2fa866"/>
<polygon points="114.65,55.72 112.7,52.32 116.6,52.32" fill="#2fa866"/>
<polygon points="117.4,52.21 115.45,48.81 119.35,48.81" fill="#2fa866"/>
<polygon points="120.15,52.21 118.2,48.81 122.1,48.81" fill="#2fa866"/>
<polygon points="122.9,52.21 120.95,48.81 124.85,48.81" fill="#2fa866"/>
<polygon points="125.65,52.21 123.7,48.81 127.6,48.81" fill="#2fa866"/>
<polygon points="128.4,48.7 126.45,45.3 130.35,45.3" fill="#2fa866"/>
<polygon points="131.15,48.7 129.2,45.3 133.1,45.3" fill="#2fa866"/>
<polygon points="133.9,48.7 131.95,45.3 135.85,45.3" fill="#2fa866"/>
<polygon points="136.65,45.19 134.7,41.79 138.6,41.79" fill="#2fa866"/>
<polygon points="139.4,45.19 137.45,41.79 141.35,41.79" fill="#2fa866"/>
<polygon points="142.15,45.19 140.2,41.79 144.1,41.79" fill="#2fa866"/>
<polygon points="144.9,41.68 142.95,38.28 146.85,38.28" fill="#2fa866"/>
<polygon points="147.65,41.68 145.7,38.28 149.6,38.28" fill="#2fa866"/>
<polygon points="150.4,41.68 148.45,38.28 152.35,38.28" fill="#2fa866"/>
<polygon points="153.15,41.68 151.2,38.28 155.1,38.28" fill="#2fa866"/>
<polygon points="155.9,41.68 153.95,38.28 157.85,38.28" fill="#2fa866"/>
<polygon points="158.65,38.17 156.7,34.77 160.6,34.77" fill="#2fa866"/>
<polygon points="161.4,38.17 159.45,34.77 163.35,34.77" fill="#2fa866"/>
<polygon points="164.15,38.17 162.2,34.77 166.1,34.77" fill="#2fa866"/>
<polygon points="166.9,38.17 164.95,34.77 168.85,34.77" fill="#2fa866"/>
<polygon points="169.65,38.17 167.7,34.77 171.6,34.77" fill="#2fa866"/>
<polygon points="172.4,38.17 170.45,34.77 174.35,34.77" fill="#2fa866"/>
<polygon points="175.15,34.66 173.2,31.26 177.1,31.26" fill="#2fa866"/>
<polygon points="177.9,34.66 175.95,31.26 179.85,31.26" fill="#2fa866"/>
<polygon points="180.65,34.66 178.7,31.26 182.6,31.26" fill="#2fa866"/>
<polygon points="183.4,34.66 181.45,31.26 185.35,31.26" fill="#2fa866"/>
<polygon points="186.15,34.66 184.2,31.26 188.1,31.26" fill="#2fa866"/>
<polygon points="188.9,31.15 186.95,27.75 190.85,27.75" fill="#2fa866"/>
<polygon points="191.65,31.15 189.7,27.75 193.6,27.75" fill="#2fa866"/>
<polygon points="194.4,31.15 192.45,27.75 196.35,27.75" fill="#2fa866"/>
<polygon points="197.15,31.15 195.2,27.75 199.1,27.75" fill="#2fa866"/>
<polygon points="199.9,31.15 197.95,27.75 201.85,27.75" fill="#2fa866"/>
<polygon points="202.65,31.15 200.7,27.75 204.6,27.75" fill="#2fa866"/>
<polygon points="205.4,31.15 203.45,27.75 207.35,27.75" fill="#2fa866"/>
<polygon points="208.15,27.64 206.2,24.24 210.1,24.24" fill="#2fa866"/>
<polygon points="210.9,27.64 208.95,24.24 212.85,24.24" fill="#2fa866"/>
<polygon points="213.65,27.64 211.7,24.24 215.6,24.24" fill="#2fa866"/>
<polygon points="216.4,27.64 214.45,24.24 218.35,24.24" fill="#2fa866"/>
<polygon points="219.15,27.64 217.2,24.24 221.1,24.24" fill="#2fa866"/>
<polygon points="221.9,27.64 219.95,24.24 223.85,24.24" fill="#2fa866"/>
<polygon points="224.65,27.64 222.7,24.24 226.6,24.24" fill="#2fa866"/>
<polygon points="227.4,27.64 225.45,24.24 229.35,24.24" fill="#2fa866"/>
<polygon points="230.15,27.64 228.2,24.24 232.1,24.24" fill="#2fa866"/>
<polygon points="232.9,24.13 230.95,20.73 234.85,20.73" fill="#2fa866"/>
<polygon points="235.65,24.13 233.7,20.73 237.6,20.73" fill="#2fa866"/>
<polygon points="238.4,24.13 236.45,20.73 240.35,20.73" fill="#2fa866"/>
<polygon points="241.15,24.13 239.2,20.73 243.1,20.73" fill="#2fa866"/>
<polygon points="243.9,24.13 241.95,20.73 245.85,20.73" fill="#2fa866"/>
<polygon points="246.65,24.13 244.7,20.73 248.6,20.73" fill="#2fa866"/>
<polygon points="249.4,24.13 247.45,20.73 251.35,20.73" fill="#2fa866"/>
<polygon points="252.15,24.13 250.2,20.73 254.1,20.73" fill="#2fa866"/>
<polygon points="254.9,24.13 252.95,20.73 256.85,20.73" fill="#2fa866"/>
<polygon points="257.65,24.13 255.7,20.73 259.6,20.73" fill="#2fa866"/>
<polygon points="260.4,24.13 258.45,20.73 262.35,20.73" fill="#2fa866"/>
<polygon points="263.15,24.13 261.2,20.73 265.1,20.73" fill="#2fa866"/>
<polygon points="265.9,24.13 263.95,20.73 267.85,20.73" fill="#2fa866"/>
<polygon points="268.65,24.13 266.7,20.73 270.6,20.73" fill="#2fa866"/>
<polygon points="271.4,20.63 269.45,17.23 273.35,17.23" fill="#2fa866"/>
<polygon points="274.15,20.63 272.2,17.23 276.1,17.23" fill="#2fa866"/>
<polygon points="276.9,20.63 274.95,17.23 278.85,17.23" fill="#2fa866"/>
<polygon points="279.65,20.63 277.7,17.23 281.6,17.23" fill="#2fa866"/>
<polygon points="282.4,20.63 280.45,17.23 284.35,17.23" fill="#2fa866"/>
<polygon points="285.15,20.63 283.2,17.23 287.1,17.23" fill="#2fa866"/>
<polygon points="287.9,20.63 285.95,17.23 289.85,17.23" fill="#2fa866"/>
<polygon points="290.65,20.63 288.7,17.23 292.6,17.23" fill="#2fa866"/>
<polygon points="293.4,20.63 291.45,17.23 295.35,17.23" fill="#2fa866"/>
<polygon points="296.15,20.63 294.2,17.23 298.1,17.23" fill="#2fa866"/>
<polygon points="298.9,20.63 296.95,17.23 300.85,17.23" fill="#2fa866"/>
<polygon points="301.65,20.63 299.7,17.23 303.6,17.23" fill="#2fa866"/>
<polygon points="304.4,20.63 302.45,17.23 306.35,17.23" fill="#2fa866"/>
<polygon points="307.15,20.63 305.2,17.23 309.1,17.23" fill="#2fa866"/>
<polygon points="309.9,20.63 307.95,17.23 311.85,17.23" fill="#2fa866"/>
<polygon points="312.65,20.63 310.7,17.23 314.6,17.23" fill="#2fa866"/>
<polygon points="315.4,20.63 313.45,17.23 317.35,17.23" fill="#2fa866"/>
<path d="M49.71 171.82 L51.74 166.67 M52.46 164.81 L54.49 159.65 M55.21 157.79 L57.24 152.63 M60.71 147.26 L62.74 142.11 M63.46 140.24 L65.49 135.09 M66.21 133.22 L68.24 128.07 M68.96 126.21 L70.99 121.05" fill="none" stroke="#b47fe6" stroke-width="1.9"/>
<polygon points="46.6,174.35 49.07,176.26 46.6,178.18 44.12,176.26" fill="#b47fe6"/>
<polygon points="49.35,170.84 51.82,172.75 49.35,174.67 46.87,172.75" fill="#b47fe6"/>
<polygon points="52.1,163.82 54.57,165.74 52.1,167.65 49.62,165.74" fill="#b47fe6"/>
<polygon points="54.85,156.81 57.32,158.72 54.85,160.63 52.37,158.72" fill="#b47fe6"/>
<polygon points="57.6,149.79 60.07,151.7 57.6,153.61 55.12,151.7" fill="#b47fe6"/>
<polygon points="60.35,146.28 62.82,148.19 60.35,150.1 57.87,148.19" fill="#b47fe6"/>
<polygon points="63.1,139.26 65.57,141.17 63.1,143.09 60.62,141.17" fill="#b47fe6"/>
<polygon points="65.85,132.24 68.32,134.16 65.85,136.07 63.37,134.16" fill="#b47fe6"/>
<polygon points="68.6,125.23 71.07,127.14 68.6,129.05 66.12,127.14" fill="#b47fe6"/>
<polygon points="71.35,118.21 73.82,120.12 71.35,122.03 68.88,120.12" fill="#b47fe6"/>
<polygon points="74.1,114.7 76.57,116.61 74.1,118.52 71.62,116.61" fill="#b47fe6"/>
<polygon points="76.85,111.19 79.32,113.1 76.85,115.01 74.38,113.1" fill="#b47fe6"/>
<polygon points="79.6,107.68 82.07,109.59 79.6,111.51 77.12,109.59" fill="#b47fe6"/>
<polygon points="82.35,104.17 84.82,106.08 82.35,108 79.88,106.08" fill="#b47fe6"/>
<polygon points="85.1,100.66 87.57,102.57 85.1,104.49 82.62,102.57" fill="#b47fe6"/>
<polygon points="87.85,97.15 90.32,99.07 87.85,100.98 85.38,99.07" fill="#b47fe6"/>
<polygon points="90.6,97.15 93.07,99.07 90.6,100.98 88.12,99.07" fill="#b47fe6"/>
<polygon points="93.35,93.64 95.82,95.56 93.35,97.47 90.88,95.56" fill="#b47fe6"/>
<polygon points="96.1,90.14 98.57,92.05 96.1,93.96 93.62,92.05" fill="#b47fe6"/>
<polygon points="98.85,86.63 101.32,88.54 98.85,90.45 96.38,88.54" fill="#b47fe6"/>
<polygon points="101.6,86.63 104.07,88.54 101.6,90.45 99.12,88.54" fill="#b47fe6"/>
<polygon points="104.35,83.12 106.82,85.03 104.35,86.94 101.88,85.03" fill="#b47fe6"/>
<polygon points="107.1,83.12 109.57,85.03 107.1,86.94 104.62,85.03" fill="#b47fe6"/>
<polygon points="109.85,79.61 112.32,81.52 109.85,83.43 107.38,81.52" fill="#b47fe6"/>
<polygon points="112.6,76.1 115.07,78.01 112.6,79.92 110.12,78.01" fill="#b47fe6"/>
<polygon points="115.35,76.1 117.82,78.01 115.35,79.92 112.88,78.01" fill="#b47fe6"/>
<polygon points="118.1,72.59 120.57,74.5 118.1,76.42 115.62,74.5" fill="#b47fe6"/>
<polygon points="120.85,72.59 123.32,74.5 120.85,76.42 118.38,74.5" fill="#b47fe6"/>
<polygon points="123.6,69.08 126.07,70.99 123.6,72.91 121.12,70.99" fill="#b47fe6"/>
<polygon points="126.35,69.08 128.82,70.99 126.35,72.91 123.88,70.99" fill="#b47fe6"/>
<polygon points="129.1,65.57 131.57,67.48 129.1,69.4 126.62,67.48" fill="#b47fe6"/>
<polygon points="131.85,65.57 134.32,67.48 131.85,69.4 129.38,67.48" fill="#b47fe6"/>
<polygon points="134.6,65.57 137.07,67.48 134.6,69.4 132.12,67.48" fill="#b47fe6"/>
<polygon points="137.35,62.06 139.82,63.98 137.35,65.89 134.88,63.98" fill="#b47fe6"/>
<polygon points="140.1,62.06 142.57,63.98 140.1,65.89 137.62,63.98" fill="#b47fe6"/>
<polygon points="142.85,58.55 145.32,60.47 142.85,62.38 140.38,60.47" fill="#b47fe6"/>
<polygon points="145.6,58.55 148.07,60.47 145.6,62.38 143.12,60.47" fill="#b47fe6"/>
<polygon points="148.35,58.55 150.82,60.47 148.35,62.38 145.88,60.47" fill="#b47fe6"/>
<polygon points="151.1,55.05 153.57,56.96 151.1,58.87 148.62,56.96" fill="#b47fe6"/>
<polygon points="153.85,55.05 156.32,56.96 153.85,58.87 151.38,56.96" fill="#b47fe6"/>
<polygon points="156.6,55.05 159.07,56.96 156.6,58.87 154.12,56.96" fill="#b47fe6"/>
<polygon points="159.35,51.54 161.82,53.45 159.35,55.36 156.88,53.45" fill="#b47fe6"/>
<polygon points="162.1,51.54 164.57,53.45 162.1,55.36 159.62,53.45" fill="#b47fe6"/>
<polygon points="164.85,51.54 167.32,53.45 164.85,55.36 162.38,53.45" fill="#b47fe6"/>
<polygon points="167.6,48.03 170.07,49.94 167.6,51.85 165.12,49.94" fill="#b47fe6"/>
<polygon points="170.35,48.03 172.82,49.94 170.35,51.85 167.88,49.94" fill="#b47fe6"/>
<polygon points="173.1,48.03 175.57,49.94 173.1,51.85 170.62,49.94" fill="#b47fe6"/>
<polygon points="175.85,48.03 178.32,49.94 175.85,51.85 173.38,49.94" fill="#b47fe6"/>
<polygon points="178.6,44.52 181.07,46.43 178.6,48.34 176.12,46.43" fill="#b47fe6"/>
<polygon points="181.35,44.52 183.82,46.43 181.35,48.34 178.88,46.43" fill="#b47fe6"/>
<polygon points="184.1,44.52 186.57,46.43 184.1,48.34 181.62,46.43" fill="#b47fe6"/>
<polygon points="186.85,41.01 189.32,42.92 186.85,44.83 184.38,42.92" fill="#b47fe6"/>
<polygon points="189.6,41.01 192.07,42.92 189.6,44.83 187.12,42.92" fill="#b47fe6"/>
<polygon points="192.35,41.01 194.82,42.92 192.35,44.83 189.88,42.92" fill="#b47fe6"/>
<polygon points="195.1,41.01 197.57,42.92 195.1,44.83 192.62,42.92" fill="#b47fe6"/>
<polygon points="197.85,41.01 200.32,42.92 197.85,44.83 195.38,42.92" fill="#b47fe6"/>
<polygon points="200.6,37.5 203.07,39.41 200.6,41.33 198.12,39.41" fill="#b47fe6"/>
<polygon points="203.35,37.5 205.82,39.41 203.35,41.33 200.88,39.41" fill="#b47fe6"/>
<polygon points="206.1,37.5 208.57,39.41 206.1,41.33 203.62,39.41" fill="#b47fe6"/>
<polygon points="208.85,37.5 211.32,39.41 208.85,41.33 206.38,39.41" fill="#b47fe6"/>
<polygon points="211.6,37.5 214.07,39.41 211.6,41.33 209.12,39.41" fill="#b47fe6"/>
<polygon points="214.35,33.99 216.82,35.9 214.35,37.82 211.88,35.9" fill="#b47fe6"/>
<polygon points="217.1,33.99 219.57,35.9 217.1,37.82 214.62,35.9" fill="#b47fe6"/>
<polygon points="219.85,33.99 222.32,35.9 219.85,37.82 217.38,35.9" fill="#b47fe6"/>
<polygon points="222.6,33.99 225.07,35.9 222.6,37.82 220.12,35.9" fill="#b47fe6"/>
<polygon points="225.35,33.99 227.82,35.9 225.35,37.82 222.88,35.9" fill="#b47fe6"/>
<polygon points="228.1,30.48 230.57,32.39 228.1,34.31 225.62,32.39" fill="#b47fe6"/>
<polygon points="230.85,30.48 233.32,32.39 230.85,34.31 228.38,32.39" fill="#b47fe6"/>
<polygon points="233.6,30.48 236.07,32.39 233.6,34.31 231.12,32.39" fill="#b47fe6"/>
<polygon points="236.35,30.48 238.82,32.39 236.35,34.31 233.88,32.39" fill="#b47fe6"/>
<polygon points="239.1,30.48 241.57,32.39 239.1,34.31 236.62,32.39" fill="#b47fe6"/>
<polygon points="241.85,30.48 244.32,32.39 241.85,34.31 239.38,32.39" fill="#b47fe6"/>
<polygon points="244.6,30.48 247.07,32.39 244.6,34.31 242.12,32.39" fill="#b47fe6"/>
<polygon points="247.35,26.97 249.82,28.89 247.35,30.8 244.88,28.89" fill="#b47fe6"/>
<polygon points="250.1,26.97 252.57,28.89 250.1,30.8 247.62,28.89" fill="#b47fe6"/>
<polygon points="252.85,26.97 255.32,28.89 252.85,30.8 250.38,28.89" fill="#b47fe6"/>
<polygon points="255.6,26.97 258.07,28.89 255.6,30.8 253.12,28.89" fill="#b47fe6"/>
<polygon points="258.35,26.97 260.83,28.89 258.35,30.8 255.88,28.89" fill="#b47fe6"/>
<polygon points="261.1,26.97 263.58,28.89 261.1,30.8 258.62,28.89" fill="#b47fe6"/>
<polygon points="263.85,26.97 266.33,28.89 263.85,30.8 261.38,28.89" fill="#b47fe6"/>
<polygon points="266.6,26.97 269.08,28.89 266.6,30.8 264.12,28.89" fill="#b47fe6"/>
<polygon points="269.35,26.97 271.83,28.89 269.35,30.8 266.88,28.89" fill="#b47fe6"/>
<polygon points="272.1,26.97 274.58,28.89 272.1,30.8 269.62,28.89" fill="#b47fe6"/>
<polygon points="274.85,23.46 277.33,25.38 274.85,27.29 272.38,25.38" fill="#b47fe6"/>
<polygon points="277.6,23.46 280.08,25.38 277.6,27.29 275.12,25.38" fill="#b47fe6"/>
<polygon points="280.35,23.46 282.83,25.38 280.35,27.29 277.88,25.38" fill="#b47fe6"/>
<polygon points="283.1,23.46 285.58,25.38 283.1,27.29 280.62,25.38" fill="#b47fe6"/>
<polygon points="285.85,23.46 288.33,25.38 285.85,27.29 283.38,25.38" fill="#b47fe6"/>
<polygon points="288.6,23.46 291.08,25.38 288.6,27.29 286.12,25.38" fill="#b47fe6"/>
<polygon points="291.35,23.46 293.83,25.38 291.35,27.29 288.88,25.38" fill="#b47fe6"/>
<polygon points="294.1,23.46 296.58,25.38 294.1,27.29 291.62,25.38" fill="#b47fe6"/>
<polygon points="296.85,23.46 299.33,25.38 296.85,27.29 294.38,25.38" fill="#b47fe6"/>
<polygon points="299.6,23.46 302.08,25.38 299.6,27.29 297.12,25.38" fill="#b47fe6"/>
<polygon points="302.35,23.46 304.83,25.38 302.35,27.29 299.88,25.38" fill="#b47fe6"/>
<polygon points="305.1,23.46 307.58,25.38 305.1,27.29 302.62,25.38" fill="#b47fe6"/>
<polygon points="307.85,19.96 310.33,21.87 307.85,23.78 305.38,21.87" fill="#b47fe6"/>
<polygon points="310.6,19.96 313.08,21.87 310.6,23.78 308.12,21.87" fill="#b47fe6"/>
<polygon points="313.35,19.96 315.83,21.87 313.35,23.78 310.88,21.87" fill="#b47fe6"/>
<polygon points="316.1,19.96 318.58,21.87 316.1,23.78 313.62,21.87" fill="#b47fe6"/>
<path d="M57.26 164.81 L59.29 159.65 M62.76 154.28 L64.79 149.12 M71.01 140.24 L73.04 135.09 M73.76 133.22 L75.79 128.07" fill="none" stroke="#cc8e14" stroke-width="1.9"/>
<polygon points="43.3,172.75 47.2,170.91 47.2,174.6" fill="#cc8e14"/>
<polygon points="46.05,172.75 49.95,170.91 49.95,174.6" fill="#cc8e14"/>
<polygon points="48.8,172.75 52.7,170.91 52.7,174.6" fill="#cc8e14"/>
<polygon points="51.55,169.25 55.45,167.4 55.45,171.1" fill="#cc8e14"/>
<polygon points="54.3,165.74 58.2,163.89 58.2,167.59" fill="#cc8e14"/>
<polygon points="57.05,158.72 60.95,156.87 60.95,160.57" fill="#cc8e14"/>
<polygon points="59.8,155.21 63.7,153.36 63.7,157.06" fill="#cc8e14"/>
<polygon points="62.55,148.19 66.45,146.34 66.45,150.04" fill="#cc8e14"/>
<polygon points="65.3,144.68 69.2,142.83 69.2,146.53" fill="#cc8e14"/>
<polygon points="68.05,141.17 71.95,139.32 71.95,143.02" fill="#cc8e14"/>
<polygon points="70.8,134.16 74.7,132.31 74.7,136.01" fill="#cc8e14"/>
<polygon points="73.55,127.14 77.45,125.29 77.45,128.99" fill="#cc8e14"/>
<polygon points="76.3,123.63 80.2,121.78 80.2,125.48" fill="#cc8e14"/>
<polygon points="79.05,120.12 82.95,118.27 82.95,121.97" fill="#cc8e14"/>
<polygon points="81.8,116.61 85.7,114.76 85.7,118.46" fill="#cc8e14"/>
<polygon points="84.55,113.1 88.45,111.25 88.45,114.95" fill="#cc8e14"/>
<polygon points="87.3,109.59 91.2,107.74 91.2,111.44" fill="#cc8e14"/>
<polygon points="90.05,106.08 93.95,104.23 93.95,107.93" fill="#cc8e14"/>
<polygon points="92.8,106.08 96.7,104.23 96.7,107.93" fill="#cc8e14"/>
<polygon points="95.55,102.57 99.45,100.72 99.45,104.42" fill="#cc8e14"/>
<polygon points="98.3,99.07 102.2,97.22 102.2,100.92" fill="#cc8e14"/>
<polygon points="101.05,95.56 104.95,93.71 104.95,97.41" fill="#cc8e14"/>
<polygon points="103.8,95.56 107.7,93.71 107.7,97.41" fill="#cc8e14"/>
<polygon points="106.55,92.05 110.45,90.2 110.45,93.9" fill="#cc8e14"/>
<polygon points="109.3,88.54 113.2,86.69 113.2,90.39" fill="#cc8e14"/>
<polygon points="112.05,88.54 115.95,86.69 115.95,90.39" fill="#cc8e14"/>
<polygon points="114.8,85.03 118.7,83.18 118.7,86.88" fill="#cc8e14"/>
<polygon points="117.55,85.03 121.45,83.18 121.45,86.88" fill="#cc8e14"/>
<polygon points="120.3,81.52 124.2,79.67 124.2,83.37" fill="#cc8e14"/>
<polygon points="123.05,81.52 126.95,79.67 126.95,83.37" fill="#cc8e14"/>
<polygon points="125.8,78.01 129.7,76.16 129.7,79.86" fill="#cc8e14"/>
<polygon points="128.55,78.01 132.45,76.16 132.45,79.86" fill="#cc8e14"/>
<polygon points="131.3,74.5 135.2,72.65 135.2,76.35" fill="#cc8e14"/>
<polygon points="134.05,74.5 137.95,72.65 137.95,76.35" fill="#cc8e14"/>
<polygon points="136.8,70.99 140.7,69.14 140.7,72.84" fill="#cc8e14"/>
<polygon points="139.55,70.99 143.45,69.14 143.45,72.84" fill="#cc8e14"/>
<polygon points="142.3,67.48 146.2,65.64 146.2,69.33" fill="#cc8e14"/>
<polygon points="145.05,67.48 148.95,65.64 148.95,69.33" fill="#cc8e14"/>
<polygon points="147.8,63.98 151.7,62.13 151.7,65.83" fill="#cc8e14"/>
<polygon points="150.55,63.98 154.45,62.13 154.45,65.83" fill="#cc8e14"/>
<polygon points="153.3,63.98 157.2,62.13 157.2,65.83" fill="#cc8e14"/>
<polygon points="156.05,60.47 159.95,58.62 159.95,62.32" fill="#cc8e14"/>
<polygon points="158.8,60.47 162.7,58.62 162.7,62.32" fill="#cc8e14"/>
<polygon points="161.55,56.96 165.45,55.11 165.45,58.81" fill="#cc8e14"/>
<polygon points="164.3,56.96 168.2,55.11 168.2,58.81" fill="#cc8e14"/>
<polygon points="167.05,53.45 170.95,51.6 170.95,55.3" fill="#cc8e14"/>
<polygon points="169.8,53.45 173.7,51.6 173.7,55.3" fill="#cc8e14"/>
<polygon points="172.55,53.45 176.45,51.6 176.45,55.3" fill="#cc8e14"/>
<polygon points="175.3,49.94 179.2,48.09 179.2,51.79" fill="#cc8e14"/>
<polygon points="178.05,49.94 181.95,48.09 181.95,51.79" fill="#cc8e14"/>
<polygon points="180.8,49.94 184.7,48.09 184.7,51.79" fill="#cc8e14"/>
<polygon points="183.55,49.94 187.45,48.09 187.45,51.79" fill="#cc8e14"/>
<polygon points="186.3,49.94 190.2,48.09 190.2,51.79" fill="#cc8e14"/>
<polygon points="189.05,46.43 192.95,44.58 192.95,48.28" fill="#cc8e14"/>
<polygon points="191.8,46.43 195.7,44.58 195.7,48.28" fill="#cc8e14"/>
<polygon points="194.55,46.43 198.45,44.58 198.45,48.28" fill="#cc8e14"/>
<polygon points="197.3,46.43 201.2,44.58 201.2,48.28" fill="#cc8e14"/>
<polygon points="200.05,42.92 203.95,41.07 203.95,44.77" fill="#cc8e14"/>
<polygon points="202.8,42.92 206.7,41.07 206.7,44.77" fill="#cc8e14"/>
<polygon points="205.55,42.92 209.45,41.07 209.45,44.77" fill="#cc8e14"/>
<polygon points="208.3,42.92 212.2,41.07 212.2,44.77" fill="#cc8e14"/>
<polygon points="211.05,42.92 214.95,41.07 214.95,44.77" fill="#cc8e14"/>
<polygon points="213.8,39.41 217.7,37.56 217.7,41.26" fill="#cc8e14"/>
<polygon points="216.55,39.41 220.45,37.56 220.45,41.26" fill="#cc8e14"/>
<polygon points="219.3,39.41 223.2,37.56 223.2,41.26" fill="#cc8e14"/>
<polygon points="222.05,39.41 225.95,37.56 225.95,41.26" fill="#cc8e14"/>
<polygon points="224.8,39.41 228.7,37.56 228.7,41.26" fill="#cc8e14"/>
<polygon points="227.55,35.9 231.45,34.05 231.45,37.75" fill="#cc8e14"/>
<polygon points="230.3,35.9 234.2,34.05 234.2,37.75" fill="#cc8e14"/>
<polygon points="233.05,35.9 236.95,34.05 236.95,37.75" fill="#cc8e14"/>
<polygon points="235.8,35.9 239.7,34.05 239.7,37.75" fill="#cc8e14"/>
<polygon points="238.55,35.9 242.45,34.05 242.45,37.75" fill="#cc8e14"/>
<polygon points="241.3,35.9 245.2,34.05 245.2,37.75" fill="#cc8e14"/>
<polygon points="244.05,35.9 247.95,34.05 247.95,37.75" fill="#cc8e14"/>
<polygon points="246.8,32.39 250.7,30.54 250.7,34.24" fill="#cc8e14"/>
<polygon points="249.55,32.39 253.45,30.54 253.45,34.24" fill="#cc8e14"/>
<polygon points="252.3,32.39 256.2,30.54 256.2,34.24" fill="#cc8e14"/>
<polygon points="255.05,32.39 258.95,30.54 258.95,34.24" fill="#cc8e14"/>
<polygon points="257.8,32.39 261.7,30.54 261.7,34.24" fill="#cc8e14"/>
<polygon points="260.55,32.39 264.45,30.54 264.45,34.24" fill="#cc8e14"/>
<polygon points="263.3,32.39 267.2,30.54 267.2,34.24" fill="#cc8e14"/>
<polygon points="266.05,32.39 269.95,30.54 269.95,34.24" fill="#cc8e14"/>
<polygon points="268.8,28.89 272.7,27.04 272.7,30.74" fill="#cc8e14"/>
<polygon points="271.55,28.89 275.45,27.04 275.45,30.74" fill="#cc8e14"/>
<polygon points="274.3,28.89 278.2,27.04 278.2,30.74" fill="#cc8e14"/>
<polygon points="277.05,28.89 280.95,27.04 280.95,30.74" fill="#cc8e14"/>
<polygon points="279.8,28.89 283.7,27.04 283.7,30.74" fill="#cc8e14"/>
<polygon points="282.55,28.89 286.45,27.04 286.45,30.74" fill="#cc8e14"/>
<polygon points="285.3,28.89 289.2,27.04 289.2,30.74" fill="#cc8e14"/>
<polygon points="288.05,28.89 291.95,27.04 291.95,30.74" fill="#cc8e14"/>
<polygon points="290.8,28.89 294.7,27.04 294.7,30.74" fill="#cc8e14"/>
<polygon points="293.55,28.89 297.45,27.04 297.45,30.74" fill="#cc8e14"/>
<polygon points="296.3,28.89 300.2,27.04 300.2,30.74" fill="#cc8e14"/>
<polygon points="299.05,28.89 302.95,27.04 302.95,30.74" fill="#cc8e14"/>
<polygon points="301.8,25.38 305.7,23.53 305.7,27.23" fill="#cc8e14"/>
<polygon points="304.55,25.38 308.45,23.53 308.45,27.23" fill="#cc8e14"/>
<polygon points="307.3,25.38 311.2,23.53 311.2,27.23" fill="#cc8e14"/>
<polygon points="310.05,25.38 313.95,23.53 313.95,27.23" fill="#cc8e14"/>
<polygon points="312.8,25.38 316.7,23.53 316.7,27.23" fill="#cc8e14"/>
</g>
<path d="M45.6 0 V211.2 H327.1 V0" fill="none" stroke="#474747" stroke-width="1.25"/>
<rect x="45" y="0" width="282.7" height="1.35" fill="#8a8a8a"/>
<line x1="45.6" y1="207.84" x2="47.7" y2="207.84" stroke="#666" stroke-width="1.2"/>
<line x1="45.6" y1="190.3" x2="49.6" y2="190.3" stroke="#666" stroke-width="1.2"/>
<text class="b" x="41.4" y="194.8" font-size="13.5" text-anchor="end">27.5</text>
<line x1="45.6" y1="172.75" x2="47.7" y2="172.75" stroke="#666" stroke-width="1.2"/>
<line x1="45.6" y1="155.21" x2="49.6" y2="155.21" stroke="#666" stroke-width="1.2"/>
<text class="b" x="41.4" y="159.71" font-size="13.5" text-anchor="end">30.0</text>
<line x1="45.6" y1="137.66" x2="47.7" y2="137.66" stroke="#666" stroke-width="1.2"/>
<line x1="45.6" y1="120.12" x2="49.6" y2="120.12" stroke="#666" stroke-width="1.2"/>
<text class="b" x="41.4" y="124.62" font-size="13.5" text-anchor="end">32.5</text>
<line x1="45.6" y1="102.57" x2="47.7" y2="102.57" stroke="#666" stroke-width="1.2"/>
<line x1="45.6" y1="85.03" x2="49.6" y2="85.03" stroke="#666" stroke-width="1.2"/>
<text class="b" x="41.4" y="89.53" font-size="13.5" text-anchor="end">35.0</text>
<line x1="45.6" y1="67.48" x2="47.7" y2="67.48" stroke="#666" stroke-width="1.2"/>
<line x1="45.6" y1="49.94" x2="49.6" y2="49.94" stroke="#666" stroke-width="1.2"/>
<text class="b" x="41.4" y="54.44" font-size="13.5" text-anchor="end">37.5</text>
<line x1="45.6" y1="32.39" x2="47.7" y2="32.39" stroke="#666" stroke-width="1.2"/>
<line x1="45.6" y1="14.85" x2="49.6" y2="14.85" stroke="#666" stroke-width="1.2"/>
<text class="b" x="41.4" y="19.35" font-size="13.5" text-anchor="end">40.0</text>
<line x1="45.6" y1="211.2" x2="45.6" y2="207.5" stroke="#555" stroke-width="1.2"/>
<text class="b" x="45.4" y="226.2" font-size="13.8" text-anchor="middle">0</text>
<line x1="66.27" y1="211.2" x2="66.27" y2="209.4" stroke="#555" stroke-width="1.2"/>
<line x1="86.93" y1="211.2" x2="86.93" y2="207.5" stroke="#555" stroke-width="1.2"/>
<text class="b" x="86.73" y="226.2" font-size="13.8" text-anchor="middle">220</text>
<line x1="107.6" y1="211.2" x2="107.6" y2="209.4" stroke="#555" stroke-width="1.2"/>
<line x1="128.27" y1="211.2" x2="128.27" y2="207.5" stroke="#555" stroke-width="1.2"/>
<text class="b" x="128.07" y="226.2" font-size="13.8" text-anchor="middle">440</text>
<line x1="148.93" y1="211.2" x2="148.93" y2="209.4" stroke="#555" stroke-width="1.2"/>
<line x1="169.6" y1="211.2" x2="169.6" y2="207.5" stroke="#555" stroke-width="1.2"/>
<text class="b" x="169.4" y="226.2" font-size="13.8" text-anchor="middle">660</text>
<line x1="190.27" y1="211.2" x2="190.27" y2="209.4" stroke="#555" stroke-width="1.2"/>
<line x1="210.93" y1="211.2" x2="210.93" y2="207.5" stroke="#555" stroke-width="1.2"/>
<text class="b" x="210.73" y="226.2" font-size="13.8" text-anchor="middle">880</text>
<line x1="231.6" y1="211.2" x2="231.6" y2="209.4" stroke="#555" stroke-width="1.2"/>
<line x1="252.27" y1="211.2" x2="252.27" y2="207.5" stroke="#555" stroke-width="1.2"/>
<text class="b" x="252.07" y="226.2" font-size="13.8" text-anchor="middle">1100</text>
<line x1="272.93" y1="211.2" x2="272.93" y2="209.4" stroke="#555" stroke-width="1.2"/>
<line x1="293.6" y1="211.2" x2="293.6" y2="207.5" stroke="#555" stroke-width="1.2"/>
<text class="b" x="293.4" y="226.2" font-size="13.8" text-anchor="middle">1320</text>
<line x1="314.27" y1="211.2" x2="314.27" y2="209.4" stroke="#555" stroke-width="1.2"/>
<text class="b" x="184.3" y="244.4" font-size="16.9" text-anchor="middle">Time/min</text>
<text class="b" transform="translate(12.1 164) rotate(-90)" font-size="16.9">Temperature/</text>
<g fill="none" stroke="#000" stroke-width="1.95">
<path d="M105.3 150.1 A5.0 4.5 0 1 0 109.9 150.1" stroke-linecap="butt"/>
<path d="M103.85 156.93 A4.9 4.4 0 0 0 111.35 156.93" stroke-width="2.2"/>
<circle cx="102.3" cy="162.2" r="2.3" stroke-width="1.35"/>
</g>
<line x1="112" y1="122.7" x2="135.8" y2="122.7" stroke="#404040" stroke-width="1.8"/>
<circle cx="124" cy="122.7" r="1.5" fill="#404040"/>
<text class="b" x="138.6" y="126.4" font-size="12.35">Concrete base (simulated value)</text>
<path d="M112 138 H122.5 M125.5 138 H135.8" stroke="#ee3535" stroke-width="1.8" fill="none"/>
<rect x="122.9" y="136.4" width="2.2" height="3.2" fill="#ee3535"/>
<text class="b" x="138.6" y="141.7" font-size="12.35">Track slab (simulated value)</text>
<path d="M112 153.3 H122.5 M125.5 153.3 H135.8" stroke="#2676e8" stroke-width="1.8" fill="none"/>
<polygon points="124,151.1 122.6,154.4 125.4,154.4" fill="#2676e8"/>
<text class="b" x="138.6" y="157" font-size="12.35">CA mortar (simulated value)</text>
<path d="M112 168.6 H122.5 M125.5 168.6 H135.8" stroke="#2fa866" stroke-width="1.8" fill="none"/>
<polygon points="124,170.8 122.6,167.5 125.4,167.5" fill="#2fa866"/>
<text class="b" x="138.6" y="172.3" font-size="12.35">Track slab (experimental value)</text>
<path d="M112 183.9 H122.5 M125.5 183.9 H135.8" stroke="#b47fe6" stroke-width="1.8" fill="none"/>
<polygon points="124,182.58 125.7,183.9 124,185.22 122.3,183.9" fill="#b47fe6"/>
<text class="b" x="138.6" y="187.6" font-size="12.35">CA mortar (experimental value)</text>
<path d="M112 199.2 H122.5 M125.5 199.2 H135.8" stroke="#cc8e14" stroke-width="1.8" fill="none"/>
<polygon points="121.8,199.2 125.1,197.8 125.1,200.6" fill="#cc8e14"/>
<text class="b" x="138.6" y="202.9" font-size="12.35">Concrete base (experimental value)</text>
<rect x="400.55" y="23.3" width="15" height="191.8" fill="url(#go)" stroke="#000" stroke-width="1"/>
<rect x="415.7" y="40.9" width="15.05" height="174.2" fill="url(#gg)" stroke="#000" stroke-width="1"/>
<rect x="460.3" y="94.8" width="15" height="120.3" fill="url(#go)" stroke="#000" stroke-width="1"/>
<rect x="475.45" y="78" width="15.05" height="137.1" fill="url(#gg)" stroke="#000" stroke-width="1"/>
<rect x="519.9" y="54.7" width="15" height="160.4" fill="url(#go)" stroke="#000" stroke-width="1"/>
<rect x="535.05" y="78" width="15.05" height="137.1" fill="url(#gg)" stroke="#000" stroke-width="1"/>
<rect x="579.5" y="108.9" width="15" height="106.2" fill="url(#go)" stroke="#000" stroke-width="1"/>
<rect x="594.65" y="99.35" width="15.05" height="115.75" fill="url(#gg)" stroke="#000" stroke-width="1"/>
<rect x="639" y="84.3" width="15" height="130.8" fill="url(#go)" stroke="#000" stroke-width="1"/>
<rect x="654.15" y="99.35" width="15.05" height="115.75" fill="url(#gg)" stroke="#000" stroke-width="1"/>
<rect x="385.3" y="6.6" width="298.5" height="208.5" fill="none" stroke="#444444" stroke-width="1.1"/>
<text class="b" x="381.8" y="219.9" font-size="15.8" text-anchor="end">0</text>
<line x1="385.3" y1="173.4" x2="388.5" y2="173.4" stroke="#444444" stroke-width="1"/>
<text class="b" x="381.8" y="178.2" font-size="15.8" text-anchor="end">1</text>
<line x1="385.3" y1="131.7" x2="388.5" y2="131.7" stroke="#444444" stroke-width="1"/>
<text class="b" x="381.8" y="136.5" font-size="15.8" text-anchor="end">2</text>
<line x1="385.3" y1="90" x2="388.5" y2="90" stroke="#444444" stroke-width="1"/>
<text class="b" x="381.8" y="94.8" font-size="15.8" text-anchor="end">3</text>
<line x1="385.3" y1="48.3" x2="388.5" y2="48.3" stroke="#444444" stroke-width="1"/>
<text class="b" x="381.8" y="53.1" font-size="15.8" text-anchor="end">4</text>
<text class="b" x="381.8" y="11.4" font-size="15.8" text-anchor="end">5</text>
<text class="b" x="415.45" y="233.0" font-size="15.8" text-anchor="middle">1</text>
<text class="b" x="475.2" y="233.0" font-size="15.8" text-anchor="middle">2</text>
<text class="b" x="534.8" y="233.0" font-size="15.8" text-anchor="middle">3</text>
<text class="b" x="594.4" y="233.0" font-size="15.8" text-anchor="middle">4</text>
<text class="b" x="653.9" y="233.0" font-size="15.8" text-anchor="middle">5</text>
<text class="b" x="455.2" y="245.7" font-size="15.4">Positioning of track slab</text>
<text class="b" transform="translate(369.3 191.5) rotate(-90)" font-size="15.25">Longitudinal stress/MPa</text>
<rect x="551.8" y="21.2" width="20.8" height="10.4" fill="url(#go)" stroke="#222" stroke-width="0.8"/>
<rect x="551.8" y="36.2" width="20.8" height="10.6" fill="url(#gg)" stroke="#222" stroke-width="0.8"/>
<text class="b" x="575.8" y="30.1" font-size="11.9">Experimental value</text>
<text class="b" x="575.8" y="44.9" font-size="11.9">Simulation value</text>
<text y="280.8" font-size="17.45"><tspan x="16.8">(a)</tspan><tspan x="43">Comparison</tspan><tspan x="134.4">of</tspan><tspan x="153.6">temperature</tspan><tspan x="243.4">time-history</tspan></text>
<text y="304.7" font-size="17.45"><tspan x="71.1">profiles</tspan><tspan x="129.5">of</tspan><tspan x="149.4">track</tspan><tspan x="189.3">structures</tspan></text>
<text y="280.8" font-size="17.45"><tspan x="380.4">(b)</tspan><tspan x="407">Comparison</tspan><tspan x="497.9">of</tspan><tspan x="518.1">track</tspan><tspan x="558">slab</tspan><tspan x="590.8">stress</tspan><tspan x="634.8">results</tspan></text>
<text y="304.7" font-size="17.45"><tspan x="455">for</tspan><tspan x="479.1">track</tspan><tspan x="519.8">structures</tspan></text>
</svg>
</body></html>
